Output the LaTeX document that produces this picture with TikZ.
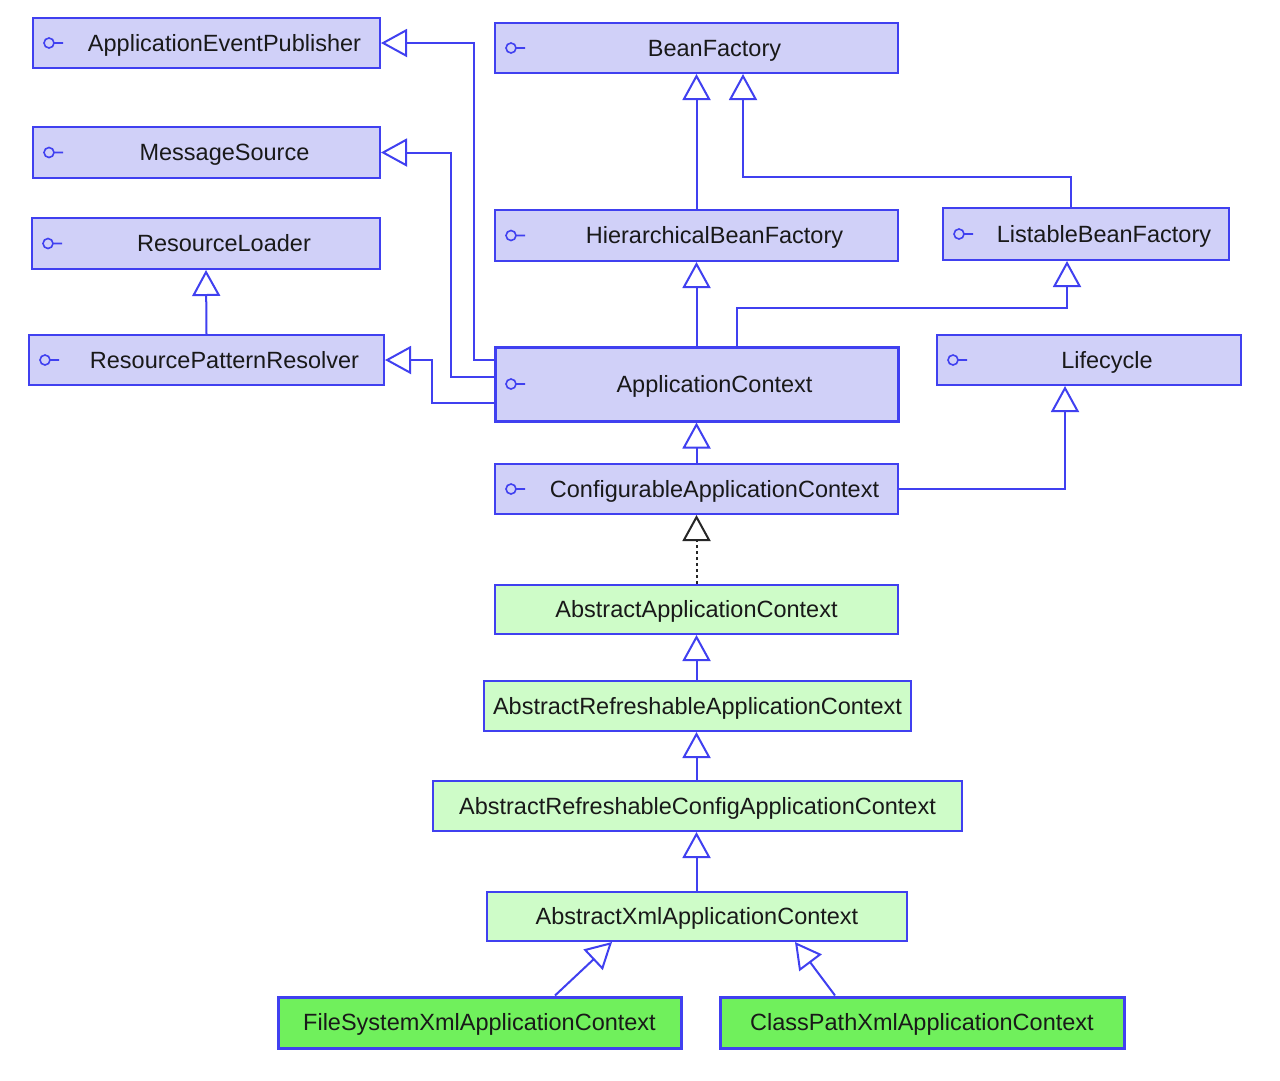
\documentclass[tikz,border=0pt]{standalone}
\usepackage{fontspec}
\setmainfont{Liberation Sans}
\usetikzlibrary{arrows.meta}
\definecolor{ifill}{RGB}{208,208,248}
\definecolor{bline}{RGB}{64,64,240}
\definecolor{cfill}{RGB}{206,252,200}
\definecolor{gfill}{RGB}{112,240,92}
\definecolor{txt}{RGB}{25,25,25}
\newcommand{\ilbl}[1]{\hspace*{36pt}#1}
\begin{document}
\begin{tikzpicture}[x=1pt,y=-1pt,
  box/.style={draw=bline, line width=2pt, inner sep=0pt, text height=19pt, text depth=3pt, font=\fontsize{23.5}{28}\selectfont, text=txt},
  iface/.style={box, fill=ifill, path picture={
      \draw[bline,line width=1.6pt] ([xshift=16pt]path picture bounding box.west) circle[radius=5pt]
        ([xshift=21pt]path picture bounding box.west) -- ([xshift=30pt]path picture bounding box.west);}},
  aclass/.style={box, fill=cfill},
  cclass/.style={box, fill=gfill, line width=3pt},
  gen/.style={draw=bline, line width=2pt, -{Triangle[open, length=26pt, width=28pt]}},
  realize/.style={draw=black!85, line width=2pt, dash pattern=on 3pt off 3pt, -{Triangle[open, length=26pt, width=28pt]}}
]
\fill[white] (0,0) rectangle (1280,1080);
\useasboundingbox (0,0) rectangle (1280,1080);

% interfaces left
\node[iface, minimum width=347pt, minimum height=50pt] (AEP) at (206.5,43) {\ilbl{ApplicationEventPublisher}};
\node[iface, minimum width=347pt, minimum height=51pt] (MS) at (206.5,152.5) {\ilbl{MessageSource}};
\node[iface, minimum width=348pt, minimum height=51pt] (RL) at (206,243.5) {\ilbl{ResourceLoader}};
\node[iface, minimum width=355pt, minimum height=50pt] (RPR) at (206.5,360) {\ilbl{ResourcePatternResolver}};

% interfaces middle/right
\node[iface, minimum width=403pt, minimum height=50pt] (BF) at (696.5,48) {\ilbl{BeanFactory}};
\node[iface, minimum width=403pt, minimum height=51pt] (HBF) at (696.5,235.5) {\ilbl{HierarchicalBeanFactory}};
\node[iface, minimum width=286pt, minimum height=52pt] (LBF) at (1086,234) {\ilbl{ListableBeanFactory}};
\node[iface, line width=3pt, minimum width=403pt, minimum height=74pt] (AC) at (696.5,384) {\ilbl{ApplicationContext}};
\node[iface, minimum width=304pt, minimum height=50pt] (LC) at (1089,360) {\ilbl{Lifecycle}};
\node[iface, minimum width=403pt, minimum height=50pt] (CAC) at (696.5,489) {\ilbl{ConfigurableApplicationContext}};

% classes
\node[aclass, minimum width=403pt, minimum height=49pt] (AAC) at (696.5,609.5) {AbstractApplicationContext};
\node[aclass, minimum width=427pt, minimum height=50pt] (ARAC) at (697.5,706) {AbstractRefreshableApplicationContext};
\node[aclass, minimum width=529pt, minimum height=50pt] (ARCAC) at (697.5,806) {AbstractRefreshableConfigApplicationContext};
\node[aclass, minimum width=420pt, minimum height=49pt] (AXAC) at (697,916.5) {AbstractXmlApplicationContext};
\node[cclass, minimum width=403pt, minimum height=51pt] (FS) at (479.5,1022.5) {FileSystemXmlApplicationContext};
\node[cclass, minimum width=404pt, minimum height=51pt] (CP) at (922,1022.5) {ClassPathXmlApplicationContext};

% connectors
\draw[gen] (AC.west |- 0,360) -| (474,43) -- (AEP.east);
\draw[gen] (AC.west |- 0,377) -| (451,152.5) -- (MS.east);
\draw[gen] (AC.west |- 0,403) -| (432,360) -- (RPR.east);
\draw[gen] (RPR.north) -- (RL.south);
\draw[gen] (HBF.north) -- (BF.south);
\draw[gen] (LBF.north -| 1071,0) |- (743,177) -- (BF.south -| 743,0);
\draw[gen] (AC.north) -- (HBF.south);
\draw[gen] (AC.north -| 737,0) |- (1067,308) -- (LBF.south -| 1067,0);
\draw[gen] (CAC.north) -- (AC.south);
\draw[gen] (CAC.east) -| (LC.south -| 1065,0);
\draw[realize] (AAC.north) -- (CAC.south);
\draw[gen] (ARAC.north -| AAC.south) -- (AAC.south);
\draw[gen] (ARCAC.north -| AAC.south) -- (ARAC.south -| AAC.south);
\draw[gen] (AXAC.north -| AAC.south) -- (ARCAC.south -| AAC.south);
\draw[gen] (FS.north -| 555,0) -- (AXAC.south -| 612,0);
\draw[gen] (CP.north -| 835,0) -- (AXAC.south -| 795,0);
\end{tikzpicture}
\end{document}
